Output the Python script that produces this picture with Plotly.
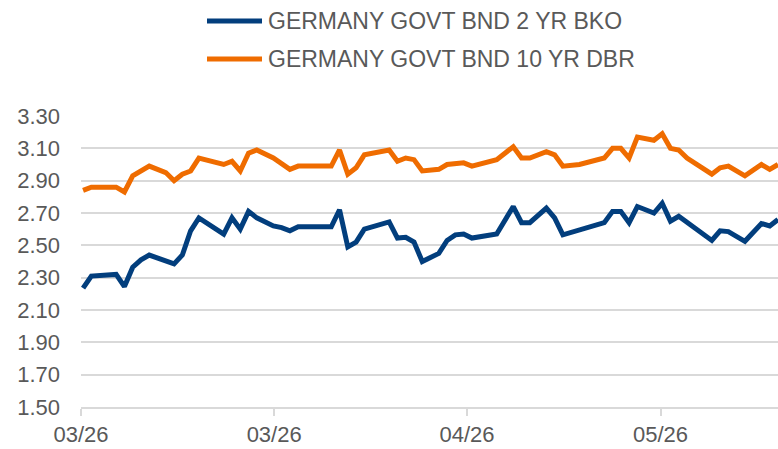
import plotly.graph_objects as go

# ---- data ----
series_names = ["GERMANY GOVT BND 2 YR BKO", "GERMANY GOVT BND 10 YR DBR"]

day_2y = [0, 1, 4, 5, 6, 7, 8, 11, 12, 13, 14, 17, 18, 19, 20, 21, 23, 24, 25, 26,
          30, 31, 32, 33, 34, 37, 38, 39, 40, 41, 43, 44, 45, 46, 47, 50, 52, 53, 54,
          56, 57, 58, 63, 64, 65, 66, 67, 69, 70, 71, 72, 76, 77, 78, 80, 82, 83, 84]
yield_2y = [2.235, 2.31, 2.32, 2.245, 2.365, 2.41, 2.44, 2.385, 2.44, 2.59, 2.67, 2.57,
            2.67, 2.60, 2.71, 2.67, 2.62, 2.61, 2.59, 2.615, 2.615, 2.72, 2.49, 2.52,
            2.60, 2.645, 2.545, 2.55, 2.52, 2.40, 2.45, 2.53, 2.565, 2.57, 2.545, 2.57,
            2.74, 2.64, 2.64, 2.73, 2.67, 2.565, 2.64, 2.71, 2.71, 2.64, 2.74, 2.70,
            2.76, 2.65, 2.68, 2.53, 2.59, 2.585, 2.525, 2.635, 2.62, 2.66]

day_10y = [0, 1, 4, 5, 6, 8, 10, 11, 12, 13, 14, 17, 18, 19, 20, 21, 23, 25, 26, 30,
           31, 32, 33, 34, 37, 38, 39, 40, 41, 43, 44, 46, 47, 50, 52, 53, 54, 56, 57,
           58, 60, 63, 64, 65, 66, 67, 69, 70, 71, 72, 73, 76, 77, 78, 80, 82, 83, 84]
yield_10y = [2.84, 2.86, 2.86, 2.83, 2.93, 2.99, 2.95, 2.90, 2.94, 2.96, 3.04, 3.00,
             3.02, 2.96, 3.07, 3.09, 3.04, 2.97, 2.99, 2.99, 3.09, 2.94, 2.98, 3.06,
             3.09, 3.02, 3.04, 3.03, 2.96, 2.97, 3.00, 3.01, 2.99, 3.03, 3.11, 3.04,
             3.04, 3.08, 3.06, 2.99, 3.00, 3.04, 3.10, 3.10, 3.04, 3.17, 3.15, 3.19,
             3.10, 3.09, 3.04, 2.94, 2.98, 2.99, 2.93, 3.00, 2.97, 3.00]

tick_pos = [-0.25, 23.1, 46.4, 69.8]
tick_labels = ["03/26", "03/26", "04/26", "05/26"]
y_ticks = [1.50, 1.70, 1.90, 2.10, 2.30, 2.50, 2.70, 2.90, 3.10, 3.30]

# ---- style ----
BLUE = "#023E7D"
ORANGE = "#EF6C00"
GREY_TXT = "#595959"
GRID = "#D9D9D9"
FONT = "Liberation Sans, Arial, sans-serif"

W, H = 778, 449
ML, MR, MT, MB = 81, 0, 116, 42

fig = go.Figure()
fig.add_trace(go.Scatter(x=day_2y, y=yield_2y, mode="lines", name=series_names[0],
                         line=dict(color=BLUE, width=5), showlegend=False))
fig.add_trace(go.Scatter(x=day_10y, y=yield_10y, mode="lines", name=series_names[1],
                         line=dict(color=ORANGE, width=5), showlegend=False))

# manual legend (long line swatches like the reference)
pw, ph = W - ML - MR, H - MT - MB
def px2paper(px, py):
    return (px - ML) / pw, (H - MB - py) / ph

for i, (name, col) in enumerate(zip(series_names, [BLUE, ORANGE])):
    yc = 21 + i * 38
    x0, yy = px2paper(207, yc)
    x1, _ = px2paper(262, yc)
    xt, _ = px2paper(266, yc)
    fig.add_shape(type="line", xref="paper", yref="paper", x0=x0, x1=x1, y0=yy, y1=yy,
                  line=dict(color=col, width=5))
    fig.add_annotation(xref="paper", yref="paper", x=xt, y=yy, text=name,
                       showarrow=False, xanchor="left", yanchor="middle",
                       font=dict(family=FONT, size=23, color=GREY_TXT))

fig.update_layout(
    width=W, height=H,
    margin=dict(l=ML, r=MR, t=MT, b=MB, autoexpand=False),
    paper_bgcolor="white", plot_bgcolor="white",
    font=dict(family=FONT, size=23, color=GREY_TXT),
)
fig.update_xaxes(range=[-0.25, 84], tickvals=tick_pos, ticktext=tick_labels,
                 automargin=False,
                 showgrid=False, zeroline=False, showline=True, linecolor=GRID,
                 linewidth=2, ticks="outside", ticklen=7, tickwidth=2, tickcolor=GRID,
                 tickfont=dict(family=FONT, size=22, color=GREY_TXT))
fig.update_yaxes(range=[1.5, 3.3], tickvals=y_ticks, tickformat=".2f",
                 automargin=False,
                 showgrid=True, gridcolor=GRID, gridwidth=2, zeroline=False,
                 showline=False, ticks="", ticklabelstandoff=20,
                 tickfont=dict(family=FONT, size=22, color=GREY_TXT))

fig.write_html("out.html", config={"displayModeBar": False},
               post_script="document.body.style.margin='0';document.body.style.padding='0';")
